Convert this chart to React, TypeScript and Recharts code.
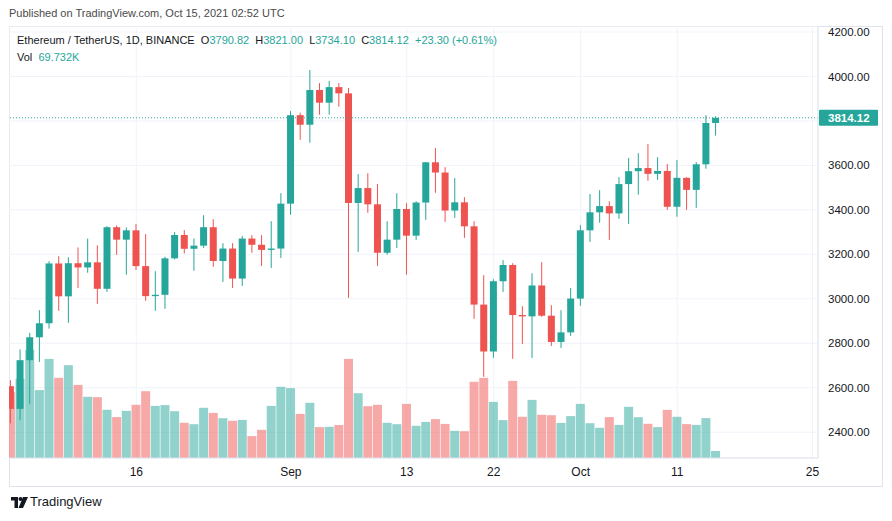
import { Bar, CartesianGrid, ComposedChart, ReferenceLine, XAxis, YAxis } from "recharts"

// daily candles, Aug 3 → Oct 15 2021 (day 0 = Aug 3)
const opens = [
  2607, 2505, 2724, 2827, 2890, 3159, 3011, 3160, 3141, 3164, 3045, 3322, 3266, 3308, 3147, 3012,
  3018, 3182, 3287, 3225, 3239, 3322, 3170, 3226, 3091, 3271, 3243, 3220, 3226, 3428, 3826, 3783,
  3939, 3882, 3952, 3924, 3431, 3498, 3425, 3207, 3266, 3404, 3284, 3433, 3614, 3568, 3397, 3434,
  3326, 2974, 2763, 3079, 3152, 2927, 2921, 3060, 2924, 2806, 2849, 3001, 3308, 3389, 3417, 3384,
  3516, 3574, 3588, 3562, 3575, 3414, 3544, 3490, 3605, 3790.82,
]
const highs = [
  2634, 2772, 2847, 2949, 3169, 3192, 3187, 3231, 3271, 3241, 3327, 3330, 3321, 3336, 3291, 3124,
  3189, 3300, 3309, 3271, 3376, 3358, 3250, 3250, 3282, 3286, 3286, 3349, 3475, 3844, 3837, 4029,
  3970, 3980, 3970, 3948, 3561, 3565, 3516, 3349, 3475, 3430, 3439, 3615, 3678, 3592, 3543, 3457,
  3349, 3106, 3088, 3174, 3160, 2967, 3115, 3165, 2971, 2949, 3048, 3331, 3471, 3489, 3439, 3547,
  3633, 3655, 3696, 3637, 3606, 3624, 3547, 3615, 3826, 3821.0,
]
const lows = [
  2440, 2454, 2526, 2716, 2866, 2946, 2892, 3049, 3117, 2977, 3031, 3198, 3108, 3130, 2991, 2946,
  2955, 3177, 3204, 3126, 3229, 3144, 3076, 3049, 3058, 3207, 3148, 3139, 3184, 3378, 3715, 3702,
  3828, 3828, 3864, 3004, 3211, 3387, 3148, 3198, 3229, 3108, 3265, 3355, 3477, 3346, 3364, 3274,
  2910, 2649, 2734, 3031, 2730, 2797, 2734, 2919, 2788, 2779, 2833, 2968, 3256, 3342, 3265, 3360,
  3337, 3468, 3531, 3535, 3400, 3369, 3400, 3409, 3585, 3734.1,
]
const closes = [
  2505, 2724, 2827, 2890, 3159, 3011, 3160, 3141, 3164, 3045, 3322, 3266, 3308, 3147, 3012, 3018,
  3182, 3287, 3225, 3239, 3322, 3170, 3226, 3091, 3271, 3243, 3220, 3226, 3428, 3826, 3783, 3939,
  3882, 3952, 3924, 3431, 3498, 3425, 3207, 3266, 3404, 3284, 3433, 3614, 3568, 3397, 3434, 3326,
  2974, 2763, 3079, 3152, 2927, 2921, 3060, 2924, 2806, 2849, 3001, 3308, 3389, 3417, 3384, 3516,
  3574, 3588, 3562, 3575, 3414, 3544, 3490, 3605, 3790.82, 3814.12,
]
// volume in thousands
const volumes = [
  658, 792, 1083, 679, 991, 802, 928, 731, 612, 608, 482, 409, 471, 532, 668, 521,
  529, 468, 352, 338, 502, 451, 398, 372, 381, 219, 282, 521, 712, 699, 441, 552,
  309, 312, 330, 991, 648, 518, 532, 352, 338, 541, 322, 361, 389, 341, 272, 268,
  762, 801, 561, 379, 771, 412, 581, 432, 428, 351, 419, 541, 348, 302, 409, 331,
  512, 408, 342, 309, 481, 412, 339, 331, 399, 69.732,
]

const tickDays = [13, 29, 41, 50, 59, 69, 83]
const tickLabels = ["16", "Sep", "13", "22", "Oct", "11", "25"]
const priceTicks = [2400, 2600, 2800, 3000, 3200, 3400, 3600, 3800, 4000, 4200]

const UP = "#26a69a"
const DOWN = "#ef5350"
const LAST = 3814.12
const FONT = "'Liberation Sans', Arial, sans-serif"

const data = opens.map((open, i) => ({
  day: i,
  open,
  high: highs[i],
  low: lows[i],
  close: closes[i],
  vol: volumes[i],
}))

const xDomain = [-0.18, 83.57]

function Candle(props: any) {
  const { x, y, width, height, payload } = props
  if (!payload) return null
  const { open, high, low, close } = payload
  const top = Math.min(y, y + height)
  const bottom = Math.max(y, y + height)
  const span = high - low || 1
  const py = (v: number) => top + ((high - v) / span) * (bottom - top)
  const color = close >= open ? UP : DOWN
  const cx = x + width / 2
  const bTop = py(Math.max(open, close))
  const bH = Math.max(1, py(Math.min(open, close)) - bTop)
  return (
    <g>
      <line x1={cx} x2={cx} y1={top} y2={bottom} stroke={color} strokeWidth={1} />
      <rect x={x} y={bTop} width={width} height={bH} fill={color} />
    </g>
  )
}

function VolBar(props: any) {
  const { x, y, width, height, payload } = props
  if (!payload) return null
  const up = payload.close >= payload.open
  return (
    <rect
      x={x}
      y={y}
      width={width}
      height={Math.max(0, height)}
      fill={up ? "rgba(38,166,154,0.5)" : "rgba(239,83,80,0.5)"}
    />
  )
}

function LastLabel(props: any) {
  const { viewBox } = props
  if (!viewBox) return null
  const x = viewBox.x + viewBox.width + 1
  const y = viewBox.y
  return (
    <g>
      <rect x={x} y={y - 8} width={59} height={16} fill={UP} rx={1} />
      <text x={x + 9} y={y + 4} fill="#fff" fontSize={11.5} fontWeight="bold">
        {LAST.toFixed(2)}
      </text>
    </g>
  )
}

const val = (v: number) => <span style={{ color: UP }}>{v.toFixed(2)}</span>

export default function App() {
  return (
    <div
      style={{
        position: "absolute",
        left: 0,
        top: 0,
        width: 892,
        height: 521,
        background: "#fff",
        fontFamily: FONT,
        color: "#131722",
      }}
    >
      <div style={{ position: "absolute", left: 9, top: 7, fontSize: 11, color: "#4a4a4a" }}>
        Published on TradingView.com, Oct 15, 2021 02:52 UTC
      </div>

      <div
        style={{
          position: "absolute",
          left: 9,
          top: 26,
          width: 872,
          height: 459,
          border: "1px solid #e0e3eb",
        }}
      />

      <div style={{ position: "absolute", left: 9, top: 26 }}>
        <ComposedChart
          width={873}
          height={460}
          data={data}
          margin={{ top: 0, right: 0, bottom: 0, left: 0 }}
          style={{ fontFamily: FONT }}
        >
          <CartesianGrid stroke="#f0f3fa" />
          <XAxis
            type="number"
            dataKey="day"
            domain={xDomain}
            allowDataOverflow
            ticks={tickDays}
            tickFormatter={(v) => tickLabels[tickDays.indexOf(v)] ?? ""}
            height={28}
            tickLine={false}
            tickMargin={3}
            axisLine={{ stroke: "#e0e3eb" }}
            tick={{ fontSize: 12, fill: "#131722" }}
          />
          <XAxis xAxisId="vol" type="number" dataKey="day" domain={xDomain} allowDataOverflow hide />
          <YAxis
            orientation="right"
            domain={[2284, 4227]}
            allowDataOverflow
            ticks={priceTicks}
            tickFormatter={(v) => (v === 3800 ? "" : Number(v).toFixed(2))}
            width={64}
            tickLine={false}
            tickMargin={4}
            axisLine={{ stroke: "#e0e3eb" }}
            tick={{ fontSize: 11.5, fill: "#131722" }}
          />
          <YAxis yAxisId="vol" domain={[0, 4320]} allowDataOverflow hide />
          <Bar
            xAxisId="vol"
            yAxisId="vol"
            dataKey="vol"
            barSize={9}
            shape={VolBar}
            isAnimationActive={false}
          />
          <ReferenceLine
            y={LAST}
            stroke={UP}
            strokeDasharray="1 2"
            label={LastLabel}
          />
          <Bar
            dataKey={(d: any) => [d.low, d.high]}
            barSize={7}
            shape={Candle}
            isAnimationActive={false}
          />
        </ComposedChart>
      </div>

      <div style={{ position: "absolute", left: 17, top: 34, fontSize: 11, whiteSpace: "pre" }}>
        Ethereum / TetherUS, 1D, BINANCE{"  "}O{val(3790.82)}{"  "}H{val(3821.0)}{"  "}L{val(3734.1)}
        {"  "}C{val(3814.12)}{"  "}
        <span style={{ color: UP }}>+23.30 (+0.61%)</span>
      </div>
      <div style={{ position: "absolute", left: 17, top: 51, fontSize: 11, whiteSpace: "pre" }}>
        Vol{"  "}<span style={{ color: UP }}>69.732K</span>
      </div>

      <svg style={{ position: "absolute", left: 11, top: 497 }} width={17} height={11}>
        <path d="M0 0 H7 V11 H3.5 V3.5 H0 Z" fill="#131722" />
        <circle cx={9.5} cy={2} r={2} fill="#131722" />
        <path d="M12 0 H17 L12 11 H7.5 Z" fill="#131722" />
      </svg>
      <div style={{ position: "absolute", left: 30, top: 494, fontSize: 13, color: "#131722" }}>
        TradingView
      </div>
    </div>
  )
}
